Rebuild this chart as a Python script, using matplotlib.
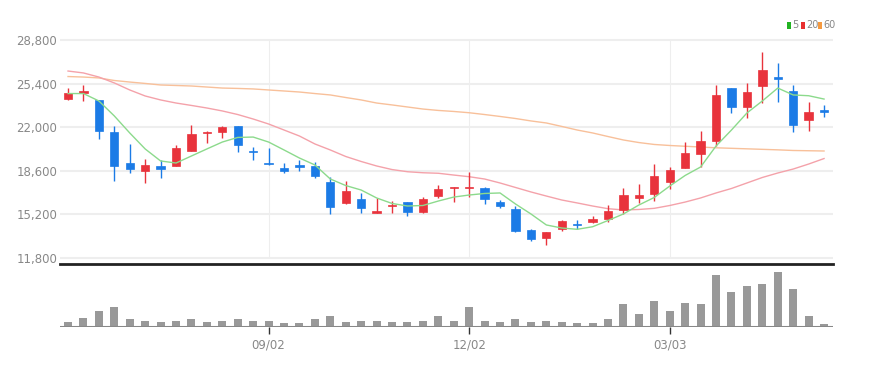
import matplotlib
matplotlib.use('Agg')
import matplotlib.pyplot as plt
import matplotlib.patches as patches

# weekly candles, oldest first
opens = [24180, 24700, 24130, 21630, 19230, 18600, 18970, 18970, 20160, 21520,
         21650, 22120, 20160, 19240, 18790, 19020, 18990, 17720, 16050, 16390,
         15320, 15840, 16150, 15400, 16620, 17230, 17230, 17270, 16130, 15580,
         13970, 13340, 14020, 14460, 14590, 14850, 15530, 16490, 16760, 17690,
         18850, 19870, 20900, 25040, 23580, 25220, 25920, 24850, 22540, 23370]
closes = [24650, 24850, 21700, 18970, 18760, 19020, 18710, 20350, 21490, 21630,
          21990, 20630, 20060, 19100, 18600, 18870, 18210, 15790, 17010, 15660,
          15470, 15940, 15400, 16360, 17150, 17330, 17330, 16360, 15840, 13910,
          13240, 13810, 14670, 14360, 14850, 15470, 16680, 16680, 18210, 18660,
          20010, 20960, 24500, 23580, 24780, 26470, 25770, 22170, 23210, 23190]
highs = [25040, 25300, 24150, 22100, 20660, 19540, 19400, 20590, 22150, 21730,
         22090, 22120, 20430, 20340, 19180, 19440, 19300, 18080, 17800, 16880,
         16440, 16260, 16160, 16570, 17480, 17330, 18480, 17350, 16310, 15840,
         14020, 13810, 14750, 14720, 15060, 15940, 17250, 17560, 19120, 18910,
         20820, 21700, 25300, 25040, 25430, 27900, 27000, 25300, 23990, 23740]
lows = [24100, 24070, 21050, 17820, 18440, 17660, 18030, 18930, 20140, 20770,
        21180, 20090, 19440, 19070, 18440, 18600, 18050, 15190, 16000, 15270,
        15290, 15270, 15060, 15320, 16440, 16180, 16520, 16000, 15660, 13810,
        13110, 12790, 13910, 14070, 14490, 14610, 15220, 16050, 16260, 17150,
        18790, 18910, 20530, 23090, 22740, 23870, 23990, 21650, 21700, 22820]

volumes = [47000, 93000, 160000, 197000, 80000, 63000, 47000, 60000, 83000, 47000,
           63000, 77000, 63000, 60000, 43000, 43000, 80000, 113000, 47000, 60000,
           63000, 47000, 47000, 63000, 113000, 63000, 197000, 63000, 47000, 80000,
           47000, 63000, 47000, 40000, 43000, 80000, 233000, 127000, 263000, 160000,
           243000, 233000, 517000, 347000, 410000, 433000, 547000, 380000, 113000, 33000]

ma5 = [24630, 24630, 24050, 22880, 21550, 20300, 19360, 19200, 19750, 20300,
       20840, 21200, 21230, 20840, 20220, 19590, 19050, 17950, 17440, 17090,
       16470, 16040, 15840, 15880, 16230, 16540, 16700, 16820, 16860, 16000,
       15220, 14360, 14120, 14020, 14220, 14710, 15220, 15920, 16510, 17400,
       18230, 18890, 20530, 21780, 23110, 24050, 25060, 24520, 24460, 24200]
ma20 = [26390, 26240, 25920, 25460, 24910, 24440, 24130, 23890, 23700, 23500,
        23270, 22990, 22640, 22250, 21780, 21310, 20690, 20220, 19710, 19320,
        18970, 18690, 18520, 18440, 18400, 18260, 18130, 17950, 17640, 17290,
        16940, 16620, 16310, 16080, 15840, 15630, 15530, 15570, 15660, 15880,
        16150, 16470, 16860, 17210, 17640, 18070, 18420, 18730, 19120, 19550]
ma60 = [25960, 25920, 25850, 25650, 25530, 25420, 25300, 25260, 25220, 25140,
        25060, 25030, 24990, 24910, 24830, 24750, 24630, 24520, 24320, 24130,
        23890, 23740, 23580, 23420, 23310, 23230, 23130, 22990, 22840, 22680,
        22490, 22330, 22060, 21780, 21550, 21270, 21000, 20800, 20650, 20570,
        20510, 20450, 20390, 20350, 20310, 20270, 20230, 20180, 20160, 20140]

price_ticks = [11800, 15200, 18600, 22000, 25400, 28800]
date_pos = [13, 26, 39]
date_labels = ['09/02', '12/02', '03/03']

UP = '#e8333c'
DOWN = '#1b7be6'
W, H = 869, 367

plt.rcParams['font.family'] = ['Liberation Sans Narrow', 'DejaVu Sans']


def draw_candles(ax):
    for i in range(len(opens)):
        o, c = opens[i], closes[i]
        color = UP if c >= o else DOWN
        ax.vlines(i, lows[i], highs[i], color=color, linewidth=1, zorder=3)
        bottom = min(o, c)
        height = max(abs(c - o), 60)
        body = patches.Rectangle((i - 0.27, bottom), 0.54, height,
                                 facecolor=color, edgecolor=color, linewidth=0.5, zorder=4)
        ax.add_patch(body)


fig = plt.figure(figsize=(W / 100, H / 100), dpi=100)
left, width = 60 / W, 773 / W
ax = fig.add_axes([left, 1 - 264 / H, width, (264 - 35) / H])
axv = fig.add_axes([left, 1 - 327 / H, width, (327 - 266) / H])

x = list(range(len(opens)))

# price panel
for p in price_ticks:
    ax.axhline(p, color='#eeeeee', linewidth=1.5, zorder=0)
for d in date_pos:
    ax.vlines(d, price_ticks[0], price_ticks[-1], color='#eeeeee', linewidth=0.8, zorder=0)

ax.plot(x, ma60, color='#f8c09a', linewidth=1.0, zorder=2)
ax.plot(x, ma20, color='#f4a2aa', linewidth=1.0, zorder=2)
ax.plot(x, ma5, color='#8cda8c', linewidth=1.0, zorder=5)
draw_candles(ax)

ax.set_xlim(-0.52, 49.58)
ax.set_ylim(11308, 29206)
ax.set_yticks(price_ticks)
ax.set_yticklabels([f'{p:,}' for p in price_ticks])
ax.set_xticks([])
ax.tick_params(axis='y', length=0, pad=2, labelsize=8.5, labelcolor='#888888')
for s in ['top', 'right', 'left']:
    ax.spines[s].set_visible(False)
ax.spines['bottom'].set_color('#222222')
ax.spines['bottom'].set_linewidth(2)

# volume panel
axv.bar(x, volumes, width=0.52, color='#999999', zorder=2)
axv.axhline(0, color='#888888', linewidth=2.2, zorder=3)
axv.set_xlim(-0.52, 49.58)
axv.set_ylim(0, 610000)
axv.set_yticks([])
axv.set_xticks(date_pos)
axv.set_xticklabels(date_labels)
axv.tick_params(axis='x', length=5, width=1, color='#333333', pad=3,
                labelsize=8.5, labelcolor='#888888')
for s in axv.spines.values():
    s.set_visible(False)

# legend, top right
legend = [('5', '#22b322', 787), ('20', '#e83030', 801), ('60', '#f59a40', 818)]
for label, color, lx in legend:
    fig.patches.append(patches.Rectangle((lx / W, 1 - 29 / H), 4 / W, 7 / H,
                                         transform=fig.transFigure, facecolor=color,
                                         edgecolor='none'))
    fig.text((lx + 5) / W, 1 - 25.5 / H, label, fontsize=7, color='#888888', va='center')

fig.savefig('out.png', dpi=100)
